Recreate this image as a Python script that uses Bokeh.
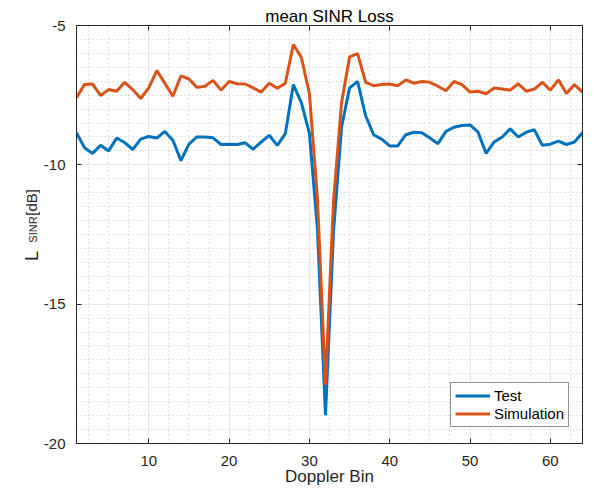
from bokeh.plotting import figure
from bokeh.layouts import row
from bokeh.models import Range1d, FixedTicker, LinearAxis, Legend, LegendItem, Label
from bokeh.embed import file_html
from bokeh.resources import INLINE
import math

# ---- data -------------------------------------------------------------
doppler_bin = list(range(1, 65))

test = [
    -8.85, -9.39, -9.59, -9.30, -9.50, -9.04, -9.20, -9.45, -9.08, -8.98,
    -9.04, -8.80, -9.12, -9.85, -9.26, -9.00, -9.00, -9.03, -9.27, -9.26,
    -9.27, -9.21, -9.44, -9.18, -8.94, -9.30, -8.88, -7.12, -7.77, -8.88,
    -12.3, -18.98, -12.4, -8.65, -7.24, -7.01, -8.24, -8.92, -9.08, -9.32,
    -9.32, -8.92, -8.83, -8.85, -9.04, -9.24, -8.80, -8.65, -8.59, -8.57,
    -8.83, -9.59, -9.18, -9.00, -8.71, -9.00, -8.83, -8.74, -9.30, -9.26,
    -9.15, -9.27, -9.18, -8.85,
]

simulation = [
    -7.59, -7.12, -7.10, -7.51, -7.30, -7.36, -7.04, -7.30, -7.62, -7.24,
    -6.62, -7.07, -7.54, -6.81, -6.92, -7.22, -7.18, -6.97, -7.32, -7.01,
    -7.09, -7.10, -7.24, -7.39, -7.07, -7.25, -7.07, -5.68, -6.15, -7.45,
    -11.2, -17.9, -11.3, -7.77, -6.13, -6.01, -7.04, -7.16, -7.12, -7.10,
    -7.16, -6.95, -7.07, -7.01, -7.04, -7.18, -7.34, -7.01, -7.12, -7.39,
    -7.36, -7.45, -7.24, -7.28, -7.32, -7.09, -7.36, -7.28, -7.04, -7.32,
    -6.95, -7.44, -7.12, -7.39,
]

x_ticks = [10, 20, 30, 40, 50, 60]
y_ticks = [-20, -15, -10, -5]
y_tick_labels = {-20: "-20", -15: "-15", -10: "-10", -5: "-5"}
x_minor = [2.5 * k for k in range(1, 26) if (2.5 * k) % 10 != 0]
y_minor = [-20 + 0.5 * k for k in range(1, 30) if (0.5 * k) % 5 != 0]

title_text = "mean SINR Loss"
x_label = "Doppler Bin"
y_label_parts = ["L", "SINR", "[dB]"]
series_names = ["Test", "Simulation"]

# ---- style ------------------------------------------------------------
FONT = "Liberation Sans"
AX = "#262626"
BLUE = "#0072BD"
ORANGE = "#D95319"

TOTAL_W, TOTAL_H = 584, 488
LAB_W = 40

# ---- narrow panel holding the y-axis label -----------------------------
lab = figure(width=LAB_W, height=TOTAL_H, output_backend="svg", toolbar_location=None,
             x_range=Range1d(0, LAB_W), y_range=Range1d(0, TOTAL_H),
             min_border=0, x_axis_type=None, y_axis_type=None, title=None)
lab.outline_line_color = None
lab.grid.visible = False
lab.background_fill_color = "white"
lab.border_fill_color = "white"

def up(y_from_top):
    return TOTAL_H - y_from_top

# rotated labels (reading bottom to top), anchored at their lower end
for txt, bx, by, size in [(y_label_parts[0], 31.0, 275.0, "18px"),
                          (y_label_parts[1], 32.5, 253.5, "11px"),
                          (y_label_parts[2], 31.0, 222.0, "15px")]:
    lab.add_layout(Label(x=bx, y=up(by), x_units="data", y_units="data",
                         text=txt, angle=math.pi / 2, text_align="left",
                         text_baseline="alphabetic", text_font=FONT,
                         text_font_size=size, text_color=AX))

# ---- main plot --------------------------------------------------------
p = figure(width=TOTAL_W - LAB_W, height=TOTAL_H, output_backend="svg",
           toolbar_location=None, title=title_text,
           x_range=Range1d(1, 64), y_range=Range1d(-20, -5),
           min_border_left=75 - LAB_W, min_border_right=2, min_border_top=25,
           min_border_bottom=43)
p.background_fill_color = "white"
p.border_fill_color = "white"
p.outline_line_color = AX

p.title.align = "center"
p.title.text_font = FONT
p.title.text_font_size = "17px"
p.title.text_font_style = "normal"
p.title.text_color = "#000000"
p.title.standoff = 0

xt = FixedTicker(ticks=x_ticks, minor_ticks=x_minor)
yt = FixedTicker(ticks=y_ticks, minor_ticks=y_minor)
p.xaxis.ticker = xt
p.yaxis.ticker = yt
p.yaxis.major_label_overrides = y_tick_labels

for ax in (p.xaxis[0], p.yaxis[0]):
    ax.axis_line_color = AX
    ax.major_tick_line_color = AX
    ax.major_tick_in = 5
    ax.major_tick_out = 0
    ax.minor_tick_line_color = None
    ax.major_label_text_font = FONT
    ax.major_label_text_font_size = "15px"
    ax.major_label_text_color = AX
p.xaxis.major_label_standoff = 8
p.yaxis.major_label_standoff = 7
p.xaxis.axis_label = x_label
p.xaxis.axis_label_text_font = FONT
p.xaxis.axis_label_text_font_size = "17px"
p.xaxis.axis_label_text_font_style = "normal"
p.xaxis.axis_label_text_color = AX
p.xaxis.axis_label_standoff = -2

# top and right axes: inward ticks only (labels not drawn)
top = LinearAxis(ticker=FixedTicker(ticks=x_ticks), major_label_text_font_size="1px",
                 major_label_text_color=None, major_tick_in=5, major_tick_out=0,
                 minor_tick_line_color=None, axis_line_color=AX,
                 major_tick_line_color=AX, major_label_standoff=0)
right = LinearAxis(ticker=FixedTicker(ticks=y_ticks), major_label_text_font_size="1px",
                   major_label_text_color=None, major_tick_in=5, major_tick_out=0,
                   minor_tick_line_color=None, axis_line_color=AX,
                   major_tick_line_color=AX, major_label_standoff=0)
p.add_layout(top, "above")
p.add_layout(right, "right")

for g in (p.xgrid[0], p.ygrid[0]):
    g.grid_line_color = "#e6e6e6"
    g.grid_line_width = 1
    g.minor_grid_line_color = "#c4c4c4"
    g.minor_grid_line_dash = "1 3"
    g.minor_grid_line_width = 1
p.xgrid[0].ticker = xt
p.ygrid[0].ticker = yt

r1 = p.line(doppler_bin, test, line_color=BLUE, line_width=3)
r2 = p.line(doppler_bin, simulation, line_color=ORANGE, line_width=3)

legend = Legend(items=[LegendItem(label=series_names[0], renderers=[r1]),
                       LegendItem(label=series_names[1], renderers=[r2])],
                location=(374, 16), orientation="vertical",
                padding=4, spacing=1, margin=0,
                glyph_width=35, glyph_height=17, label_standoff=4,
                label_text_font=FONT, label_text_font_size="15px",
                label_text_color="#000000", label_text_baseline="middle",
                border_line_color=AX, border_line_width=1,
                background_fill_color="white", background_fill_alpha=1.0)
p.add_layout(legend)

layout = row(lab, p, spacing=0)
open("out.html", "w").write(file_html(layout, INLINE))
